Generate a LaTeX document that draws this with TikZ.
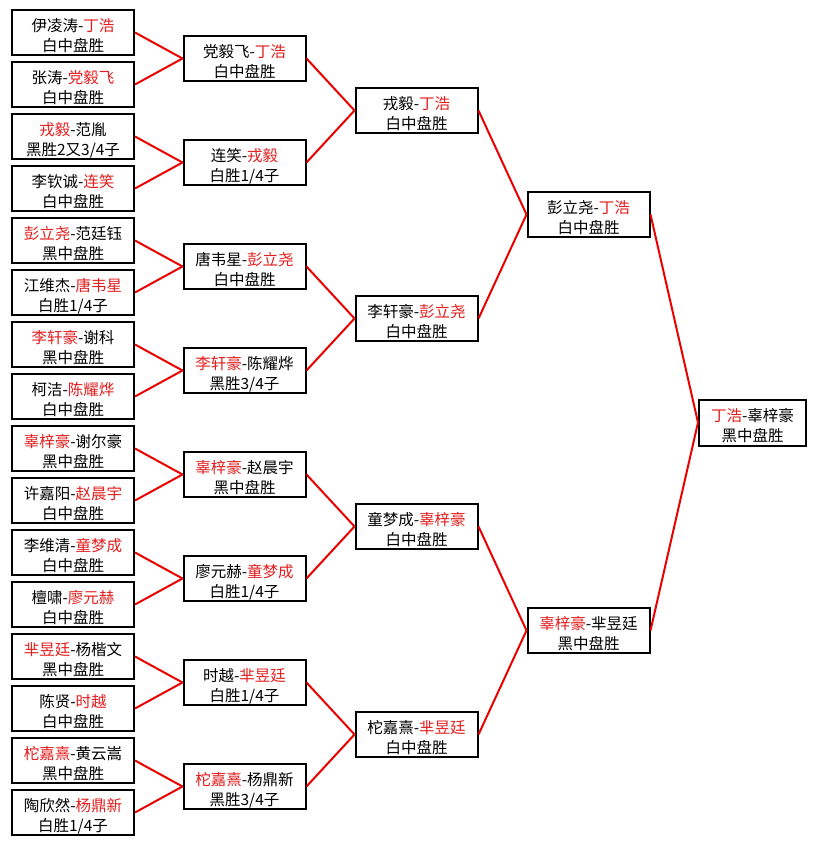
\documentclass[tikz,border=0pt]{standalone}
\usepackage{fontspec}
\setmainfont{Noto Sans CJK SC}
\definecolor{winred}{RGB}{228,30,30}
\definecolor{linkred}{RGB}{235,0,0}
\newcommand\wn[1]{\textcolor{winred}{#1}}
\begin{document}
\begin{tikzpicture}[x=1pt,y=1pt,
  game/.style={draw=black, line width=2pt, fill=white, minimum width=122pt, minimum height=45pt,
    inner sep=0pt, align=center, font=\fontsize{15.5pt}{20pt}\selectfont, text=black,
    text height=40pt, text depth=1.5pt},
  finalgame/.style={game, minimum width=107pt, minimum height=46pt},
  link/.style={draw=linkred, line width=2pt}]
\useasboundingbox (0,0) rectangle (816,-845);
\fill[white] (0,0) rectangle (816,-845);
% round 1
\node[game] (a1)  at (73,-32.5)  {伊凌涛-\wn{丁浩}\\白中盘胜};
\node[game] (a2)  at (73,-84.5)  {张涛-\wn{党毅飞}\\白中盘胜};
\node[game] (a3)  at (73,-136.5) {\wn{戎毅}-范胤\\黑胜2又3/4子};
\node[game] (a4)  at (73,-188.5) {李钦诚-\wn{连笑}\\白中盘胜};
\node[game] (a5)  at (73,-240.5) {\wn{彭立尧}-范廷钰\\黑中盘胜};
\node[game] (a6)  at (73,-292.5) {江维杰-\wn{唐韦星}\\白胜1/4子};
\node[game] (a7)  at (73,-344.5) {\wn{李轩豪}-谢科\\黑中盘胜};
\node[game] (a8)  at (73,-396.5) {柯洁-\wn{陈耀烨}\\白中盘胜};
\node[game] (a9)  at (73,-448.5) {\wn{辜梓豪}-谢尔豪\\黑中盘胜};
\node[game] (a10) at (73,-500.5) {许嘉阳-\wn{赵晨宇}\\白中盘胜};
\node[game] (a11) at (73,-552.5) {李维清-\wn{童梦成}\\白中盘胜};
\node[game] (a12) at (73,-604.5) {檀啸-\wn{廖元赫}\\白中盘胜};
\node[game] (a13) at (73,-656.5) {\wn{芈昱廷}-杨楷文\\黑中盘胜};
\node[game] (a14) at (73,-708.5) {陈贤-\wn{时越}\\白中盘胜};
\node[game] (a15) at (73,-760.5) {\wn{柁嘉熹}-黄云嵩\\黑中盘胜};
\node[game] (a16) at (73,-812.5) {陶欣然-\wn{杨鼎新}\\白胜1/4子};
% round 2
\node[game] (b1) at (244.5,-58.5)  {党毅飞-\wn{丁浩}\\白中盘胜};
\node[game] (b2) at (244.5,-162.5) {连笑-\wn{戎毅}\\白胜1/4子};
\node[game] (b3) at (244.5,-266.5) {唐韦星-\wn{彭立尧}\\白中盘胜};
\node[game] (b4) at (244.5,-370.5) {\wn{李轩豪}-陈耀烨\\黑胜3/4子};
\node[game] (b5) at (244.5,-474.5) {\wn{辜梓豪}-赵晨宇\\黑中盘胜};
\node[game] (b6) at (244.5,-578.5) {廖元赫-\wn{童梦成}\\白胜1/4子};
\node[game] (b7) at (244.5,-682.5) {时越-\wn{芈昱廷}\\白胜1/4子};
\node[game] (b8) at (244.5,-786.5) {\wn{柁嘉熹}-杨鼎新\\黑胜3/4子};
% round 3
\node[game] (c1) at (416.5,-110.5) {戎毅-\wn{丁浩}\\白中盘胜};
\node[game] (c2) at (416.5,-318.5) {李轩豪-\wn{彭立尧}\\白中盘胜};
\node[game] (c3) at (416.5,-526.5) {童梦成-\wn{辜梓豪}\\白中盘胜};
\node[game] (c4) at (416.5,-734.5) {柁嘉熹-\wn{芈昱廷}\\白中盘胜};
% round 4
\node[game] (d1) at (588.5,-214.5) {彭立尧-\wn{丁浩}\\白中盘胜};
\node[game] (d2) at (588.5,-630.5) {\wn{辜梓豪}-芈昱廷\\黑中盘胜};
% final
\node[finalgame] (e1) at (752.5,-422.5) {\wn{丁浩}-辜梓豪\\黑中盘胜};
% connectors
\foreach \c/\p in {a1/b1,a2/b1,a3/b2,a4/b2,a5/b3,a6/b3,a7/b4,a8/b4,
                   a9/b5,a10/b5,a11/b6,a12/b6,a13/b7,a14/b7,a15/b8,a16/b8,
                   b1/c1,b2/c1,b3/c2,b4/c2,b5/c3,b6/c3,b7/c4,b8/c4,
                   c1/d1,c2/d1,c3/d2,c4/d2,d1/e1,d2/e1}
  \draw[link] (\c.east) -- (\p.west);
\end{tikzpicture}
\end{document}
